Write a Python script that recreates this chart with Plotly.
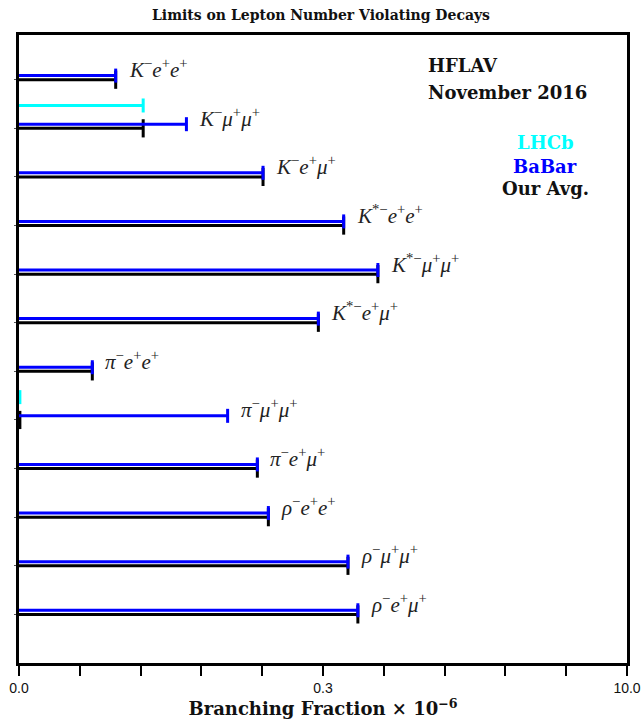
import math
import plotly.graph_objects as go

# ---------------- data ----------------
decays = [
    "<i>K</i><sup>−</sup><i>e</i><sup>+</sup><i>e</i><sup>+</sup>",
    "<i>K</i><sup>−</sup><i>μ</i><sup>+</sup><i>μ</i><sup>+</sup>",
    "<i>K</i><sup>−</sup><i>e</i><sup>+</sup><i>μ</i><sup>+</sup>",
    "<i>K</i><sup>*−</sup><i>e</i><sup>+</sup><i>e</i><sup>+</sup>",
    "<i>K</i><sup>*−</sup><i>μ</i><sup>+</sup><i>μ</i><sup>+</sup>",
    "<i>K</i><sup>*−</sup><i>e</i><sup>+</sup><i>μ</i><sup>+</sup>",
    "<i>π</i><sup>−</sup><i>e</i><sup>+</sup><i>e</i><sup>+</sup>",
    "<i>π</i><sup>−</sup><i>μ</i><sup>+</sup><i>μ</i><sup>+</sup>",
    "<i>π</i><sup>−</sup><i>e</i><sup>+</sup><i>μ</i><sup>+</sup>",
    "<i>ρ</i><sup>−</sup><i>e</i><sup>+</sup><i>e</i><sup>+</sup>",
    "<i>ρ</i><sup>−</sup><i>μ</i><sup>+</sup><i>μ</i><sup>+</sup>",
    "<i>ρ</i><sup>−</sup><i>e</i><sup>+</sup><i>μ</i><sup>+</sup>",
]
babar = [0.030, 0.067, 0.16, 0.40, 0.59, 0.30, 0.023, 0.107, 0.15, 0.17, 0.42, 0.47]
lhcb = [None, 0.041, None, None, None, None, None, 0.0101, None, None, None, None]
avg = [0.030, 0.041, 0.16, 0.40, 0.59, 0.30, 0.023, 0.0101, 0.15, 0.17, 0.42, 0.47]

tick_vals = [0.01, 0.01995, 0.03981, 0.07943, 0.1585, 0.3162, 0.631, 1.259, 2.512, 5.012, 10.0]
tick_text = ["0.0", "", "", "", "", "0.3", "", "", "", "", "10.0"]
x_min, x_max = 0.01, 10.0

# ---------------- figure ----------------
fig = go.Figure()

def add_series(values, offset, color, cap):
    xs, ys, cx, cy = [], [], [], []
    for i, v in enumerate(values):
        if v is None:
            continue
        y = i + offset
        xs += [x_min, v, None]
        ys += [y, y, None]
        cx.append(v)
        cy.append(y)
    fig.add_trace(go.Scatter(x=xs, y=ys, mode="lines",
                             line=dict(color=color, width=3),
                             hoverinfo="skip", showlegend=False))
    fig.add_trace(go.Scatter(x=cx, y=cy, mode="markers",
                             marker=dict(symbol="line-ns", size=cap,
                                         line=dict(color=color, width=3)),
                             hoverinfo="skip", showlegend=False))

add_series(avg, 0.0, "black", 13)
add_series(babar, -0.085, "#0000ff", 10)
add_series(lhcb, -0.47, "#00ffff", 10)

serif = "Liberation Serif"
serif_b = "DejaVu Serif"
label_x = [max(v for v in (a, b, c) if v is not None) for a, b, c in zip(avg, babar, lhcb)]
for i, (lab, lx) in enumerate(zip(decays, label_x)):
    fig.add_annotation(x=math.log10(lx), y=i, xref="x", yref="y", text=lab, showarrow=False,
                       xanchor="left", yanchor="middle", xshift=11, yshift=11,
                       font=dict(family=serif, size=21, color="#222"))

# geometry expressed in window pixels (body margin removed below)
PL, PR, PT, PB = 19, 627, 35, 663
W, H = 643, 728

def paper_text(px, py, text, color, size, anchor="left"):
    fig.add_annotation(x=(px - PL) / (PR - PL), y=(PB - py) / (PB - PT),
                       xref="paper", yref="paper",
                       text=text, showarrow=False, xanchor=anchor, yanchor="middle",
                       font=dict(family=serif_b, size=size, color=color))

paper_text(426, 65, "<b>HFLAV</b>", "#111", 18)
paper_text(426, 93, "<b>November 2016</b>", "#111", 18)
paper_text(545, 143, "<b>LHCb</b>", "#00ffff", 18, "center")
paper_text(545, 166, "<b>BaBar</b>", "#0000ff", 18, "center")
paper_text(545, 189, "<b>Our Avg.</b>", "#111", 18, "center")

fig.update_layout(
    width=W, height=H,
    margin=dict(l=PL, r=W - PR, t=PT, b=H - PB),
    paper_bgcolor="white", plot_bgcolor="white",
    title=dict(text="<b>Limits on Lepton Number Violating Decays</b>",
               x=321 / W, xanchor="center", y=1 - 15 / H, yanchor="middle",
               font=dict(family=serif_b, size=14, color="#111")),
    xaxis=dict(type="log", range=[-2, 1], tickmode="array",
               tickvals=tick_vals, ticktext=tick_text, automargin=False,
               ticks="outside", ticklen=10, tickwidth=2, tickcolor="black",
               showline=True, linewidth=3, linecolor="black", mirror=True,
               showgrid=False, zeroline=False,
               tickfont=dict(family="Liberation Sans", size=14, color="#111"),
               title=dict(text="<b>Branching Fraction × 10<sup>−6</sup></b>",
                          font=dict(family=serif_b, size=18, color="#111"),
                          standoff=5)),
    yaxis=dict(range=[12.0, -0.92], tickmode="array", tickvals=list(range(len(decays))),
               ticktext=["" for _ in decays], ticks="outside", ticklen=2, automargin=False,
               tickcolor="#555", tickwidth=1,
               showline=True, linewidth=3, linecolor="black", mirror=True,
               showgrid=False, zeroline=False),
)

fig.write_html("out.html", config={"displayModeBar": False},
               post_script="document.body.style.margin='0';document.body.style.overflow='hidden';")
